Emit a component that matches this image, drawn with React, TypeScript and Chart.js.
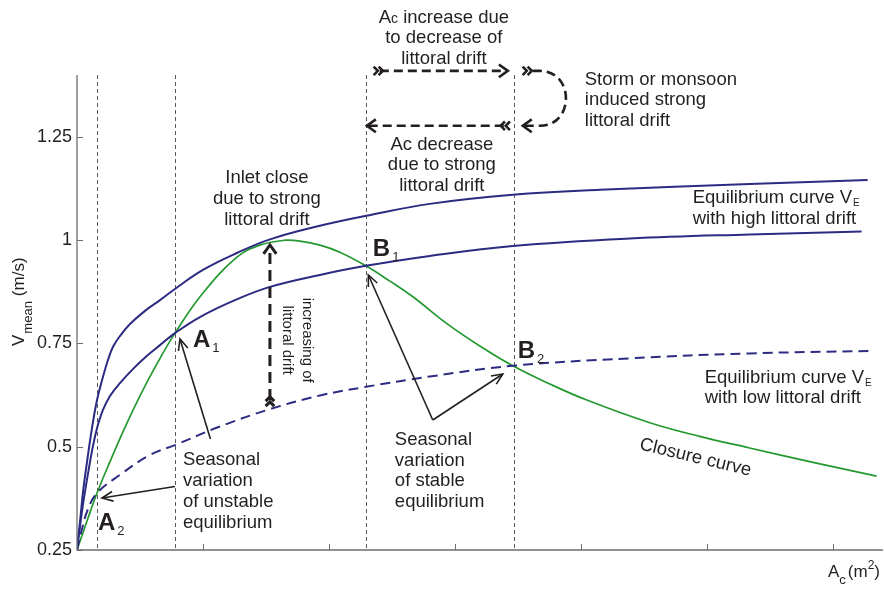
import React, { useEffect, useRef } from 'react';
import { Chart, registerables } from 'chart.js';

Chart.register(...registerables);

// ---------- data (A_c in axis units, V_mean in m/s) ----------
const highDriftX = [0, 0.0238, 0.0476, 0.0794, 0.119, 0.159, 0.206, 0.246, 0.286, 0.341, 0.421, 0.54, 0.659, 0.778, 1.0, 1.27, 1.532, 1.929, 2.294, 2.802, 3.46, 4.151, 5.341, 6.278];
const highDriftV = [0.25, 0.318, 0.39, 0.463, 0.545, 0.613, 0.669, 0.71, 0.742, 0.768, 0.797, 0.829, 0.855, 0.882, 0.928, 0.969, 1.002, 1.035, 1.059, 1.088, 1.11, 1.122, 1.136, 1.146];

const midDriftX = [0, 0.0238, 0.0556, 0.0952, 0.127, 0.159, 0.206, 0.262, 0.341, 0.444, 0.556, 0.659, 0.778, 0.976, 1.254, 1.532, 1.929, 2.294, 2.802, 3.46, 4.389, 5.341, 6.23];
const midDriftV = [0.25, 0.308, 0.376, 0.449, 0.502, 0.545, 0.589, 0.623, 0.654, 0.688, 0.72, 0.746, 0.775, 0.814, 0.855, 0.887, 0.916, 0.938, 0.962, 0.986, 1.004, 1.014, 1.021];

const lowDriftX = [0, 0.0397, 0.0873, 0.159, 0.341, 0.579, 0.778, 1.135, 1.532, 1.929, 2.294, 2.802, 3.46, 4.389, 5.341, 6.317];
const lowDriftV = [0.25, 0.301, 0.349, 0.388, 0.432, 0.48, 0.504, 0.549, 0.591, 0.624, 0.645, 0.67, 0.696, 0.714, 0.726, 0.732];

const closureX = [0, 0.0794, 0.159, 0.262, 0.381, 0.5, 0.619, 0.778, 1.0, 1.27, 1.452, 1.651, 1.77, 1.929, 2.087, 2.294, 2.484, 2.667, 2.937, 3.198, 3.46, 3.754, 4.048, 4.548, 4.944, 5.341, 5.817, 6.349];
const closureV = [0.25, 0.32, 0.388, 0.464, 0.547, 0.623, 0.692, 0.775, 0.872, 0.959, 0.988, 1.0, 0.998, 0.988, 0.971, 0.938, 0.901, 0.863, 0.798, 0.744, 0.696, 0.652, 0.613, 0.558, 0.525, 0.497, 0.464, 0.429];

// vertical dashed reference lines (A2, A1, B1, B2)
const stateMarks = [0.159, 0.778, 2.294, 3.468];

const xTicks = [1, 2, 3, 4, 5, 6];
const yTicks = [0.25, 0.5, 0.75, 1, 1.25];
const yTickLabels = ['0.25', '0.5', '0.75', '1', '1.25'];

const FONT = "'Liberation Sans', Arial, Helvetica, sans-serif";
const INK = '#231f20';
const NAVY = '#2c2b82';
const GREEN = '#23992f';

type Ctx = CanvasRenderingContext2D;

function chevron(ctx: Ctx, tx: number, ty: number, ang: number, len: number, spread: number) {
  ctx.beginPath();
  ctx.moveTo(tx - len * Math.cos(ang - spread), ty - len * Math.sin(ang - spread));
  ctx.lineTo(tx, ty);
  ctx.lineTo(tx - len * Math.cos(ang + spread), ty - len * Math.sin(ang + spread));
  ctx.stroke();
}

function feather(ctx: Ctx, x: number, y: number, ang: number) {
  for (const k of [6, 11]) {
    chevron(ctx, x + k * Math.cos(ang), y + k * Math.sin(ang), ang, 6, 0.8);
  }
}

function textLines(ctx: Ctx, lines: string[], x: number, y: number, lh: number, align: CanvasTextAlign) {
  ctx.textAlign = align;
  lines.forEach((l, i) => ctx.fillText(l, x, y + i * lh));
}

const annotPlugin = {
  id: 'annot',
  beforeDatasetsDraw(chart: any) {
    const { ctx, chartArea, scales } = chart;
    ctx.save();
    ctx.strokeStyle = '#58595b';
    ctx.lineWidth = 1;
    ctx.setLineDash([4, 3]);
    for (const u of stateMarks) {
      const px = Math.round(scales.x.getPixelForValue(u)) + 0.5;
      ctx.beginPath();
      ctx.moveTo(px, chartArea.top);
      ctx.lineTo(px, chartArea.bottom);
      ctx.stroke();
    }
    ctx.restore();
  },
  afterDraw(chart: any) {
    const { ctx, chartArea, scales } = chart;
    const xs = scales.x, ys = scales.y;
    const X = (u: number) => xs.getPixelForValue(u);
    const Y = (v: number) => ys.getPixelForValue(v);
    ctx.save();

    // axes
    ctx.setLineDash([]);
    ctx.strokeStyle = '#6d6e71';
    ctx.lineWidth = 1.3;
    ctx.beginPath();
    ctx.moveTo(chartArea.left, chartArea.top);
    ctx.lineTo(chartArea.left, chartArea.bottom);
    ctx.lineTo(chartArea.right, chartArea.bottom);
    ctx.stroke();
    ctx.lineWidth = 1;
    for (const v of yTicks) {
      const py = Math.round(Y(v)) + 0.5;
      ctx.beginPath();
      ctx.moveTo(chartArea.left, py);
      ctx.lineTo(chartArea.left + 6, py);
      ctx.stroke();
    }
    for (const u of xTicks) {
      const px = Math.round(X(u)) + 0.5;
      ctx.beginPath();
      ctx.moveTo(px, chartArea.bottom);
      ctx.lineTo(px, chartArea.bottom - 6);
      ctx.stroke();
    }

    ctx.fillStyle = INK;
    ctx.strokeStyle = INK;
    ctx.textBaseline = 'alphabetic';

    // axis titles
    ctx.save();
    ctx.translate(chartArea.left - 53, 346);
    ctx.rotate(-Math.PI / 2);
    ctx.textAlign = 'left';
    ctx.font = `17px ${FONT}`;
    ctx.fillText('V', 0, 0);
    let w = ctx.measureText('V').width + 1;
    ctx.font = `13px ${FONT}`;
    ctx.fillText('mean', w, 8);
    w += ctx.measureText('mean').width + 5;
    ctx.font = `17px ${FONT}`;
    ctx.fillText('(m/s)', w, 0);
    ctx.restore();

    {
      const base = chartArea.bottom + 27;
      ctx.textAlign = 'left';
      const parts: [string, string, number][] = [
        ['A', `17px ${FONT}`, 0],
        ['c', `13px ${FONT}`, 7],
        ['(m', `17px ${FONT}`, 0],
        ['2', `12px ${FONT}`, -8],
        [')', `17px ${FONT}`, 0],
      ];
      const gaps = [0, 0, 2, 0, 0];
      let total = 0;
      parts.forEach(([t, f], i) => { ctx.font = f; total += ctx.measureText(t).width + gaps[i]; });
      let cx = chartArea.right - 3 - total;
      parts.forEach(([t, f, dy], i) => {
        cx += gaps[i];
        ctx.font = f;
        ctx.fillText(t, cx, base + dy);
        cx += ctx.measureText(t).width;
      });
    }

    // state labels
    const stateLabel = (L: string, s: string, u: number, v: number) => {
      ctx.textAlign = 'left';
      ctx.font = `bold 24px ${FONT}`;
      const px = X(u), py = Y(v);
      ctx.fillText(L, px, py);
      const lw = ctx.measureText(L).width;
      ctx.font = `13px ${FONT}`;
      ctx.fillText(s, px + lw + 2, py + 5);
    };
    stateLabel('A', '1', 0.921, 0.7415);
    stateLabel('A', '2', 0.1667, 0.2984);
    stateLabel('B', '1', 2.349, 0.962);
    stateLabel('B', '2', 3.5, 0.715);

    // text blocks
    {
      const cx = X(2.913), by = Y(1.527);
      const l1a = 'A', l1b = 'c', l1c = ' increase due';
      ctx.font = `18.5px ${FONT}`;
      const wa = ctx.measureText(l1a).width;
      const wc = ctx.measureText(l1c).width;
      ctx.font = `14px ${FONT}`;
      const wb = ctx.measureText(l1b).width;
      const sx = cx - (wa + wb + wc) / 2;
      ctx.textAlign = 'left';
      ctx.font = `18.5px ${FONT}`;
      ctx.fillText(l1a, sx, by);
      ctx.font = `14px ${FONT}`;
      ctx.fillText(l1b, sx + wa, by);
      ctx.font = `18.5px ${FONT}`;
      ctx.fillText(l1c, sx + wa + wb, by);
      textLines(ctx, ['to decrease of', 'littoral drift'], cx, by + 20.5, 20.5, 'center');
    }
    ctx.font = `18.5px ${FONT}`;
    textLines(ctx, ['Storm or monsoon', 'induced strong', 'littoral drift'], X(4.032), Y(1.376), 20.5, 'left');
    textLines(ctx, ['Ac decrease', 'due to strong', 'littoral drift'], X(2.897), Y(1.219), 20.5, 'center');
    textLines(ctx, ['Inlet close', 'due to strong', 'littoral drift'], X(1.508), Y(1.139), 21, 'center');
    textLines(ctx, ['Seasonal', 'variation', 'of unstable', 'equilibrium'], X(0.841), Y(0.456), 21, 'left');
    textLines(ctx, ['Seasonal', 'variation', 'of stable', 'equilibrium'], X(2.524), Y(0.504), 20.5, 'left');

    const eqLabel = (u: number, v: number, second: string, lh: number) => {
      const px = X(u), py = Y(v);
      ctx.textAlign = 'left';
      ctx.font = `18.5px ${FONT}`;
      const t = 'Equilibrium curve V';
      ctx.fillText(t, px, py);
      const tw = ctx.measureText(t).width;
      ctx.font = `10px ${FONT}`;
      ctx.fillText('E', px + tw + 1, py + 3);
      ctx.font = `18.5px ${FONT}`;
      ctx.fillText(second, px, py + lh);
    };
    eqLabel(4.889, 1.09, 'with high littoral drift', 21);
    eqLabel(4.984, 0.654, 'with low littoral drift', 20);

    // closure curve label
    ctx.save();
    ctx.translate(X(4.46), Y(0.494));
    ctx.rotate((13.5 * Math.PI) / 180);
    ctx.textAlign = 'left';
    ctx.font = `18.5px ${FONT}`;
    ctx.fillText('Closure curve', 0, 0);
    ctx.restore();

    // rotated "increasing of littoral drift"
    ctx.save();
    ctx.translate(X(1.794), Y(0.758));
    ctx.rotate(Math.PI / 2);
    ctx.font = `15px ${FONT}`;
    ctx.textAlign = 'center';
    ctx.fillText('increasing of', 0, 0);
    ctx.fillText('littoral drift', 0, X(1.794) - X(1.635));
    ctx.restore();

    // solid thin arrows
    const solidArrow = (u1: number, v1: number, u2: number, v2: number) => {
      const x1 = X(u1), y1 = Y(v1), x2 = X(u2), y2 = Y(v2);
      ctx.setLineDash([]);
      ctx.lineWidth = 1.6;
      ctx.beginPath();
      ctx.moveTo(x1, y1);
      ctx.lineTo(x2, y2);
      ctx.stroke();
      chevron(ctx, x2, y2, Math.atan2(y2 - y1, x2 - x1), 12, 0.42);
    };
    solidArrow(1.0595, 0.5188, 0.8175, 0.7609);
    solidArrow(0.778, 0.4038, 0.1984, 0.3759);
    solidArrow(2.825, 0.5648, 2.3135, 0.9159);
    solidArrow(2.825, 0.5648, 3.381, 0.6761);

    // dashed arrows
    const dashedArrow = (x1: number, y1: number, x2: number, y2: number, lw: number, dash: number[]) => {
      const ang = Math.atan2(y2 - y1, x2 - x1);
      ctx.lineWidth = lw;
      ctx.setLineDash(dash);
      ctx.beginPath();
      ctx.moveTo(x1 + 8 * Math.cos(ang), y1 + 8 * Math.sin(ang));
      ctx.lineTo(x2 - 2 * Math.cos(ang), y2 - 2 * Math.sin(ang));
      ctx.stroke();
      ctx.setLineDash([]);
      feather(ctx, x1, y1, ang);
      chevron(ctx, x2, y2, ang, 11, 0.62);
    };
    ctx.lineCap = 'butt';
    dashedArrow(X(2.341), Y(1.41), X(3.421), Y(1.41), 2.6, [9, 5]);
    dashedArrow(X(3.452), Y(1.277), X(2.302), Y(1.277), 2.6, [9, 5]);
    dashedArrow(X(1.532), Y(0.594), X(1.532), Y(0.9885), 3, [11, 6]);

    // curved storm arrow
    {
      const sx = X(3.524), topY = Y(1.41), botY = Y(1.277);
      const bend = X(3.675), ctrl = X(3.952), tip = X(3.54);
      ctx.lineWidth = 2.6;
      ctx.setLineDash([9, 5]);
      ctx.beginPath();
      ctx.moveTo(sx + 12, topY);
      ctx.lineTo(bend, topY);
      ctx.bezierCurveTo(ctrl, topY, ctrl, botY, bend, botY);
      ctx.lineTo(tip + 2, botY);
      ctx.stroke();
      ctx.setLineDash([]);
      feather(ctx, sx, topY, 0);
      chevron(ctx, tip, botY, Math.PI, 11, 0.62);
    }

    ctx.restore();
  },
};

export default function App() {
  const canvasRef = useRef<HTMLCanvasElement | null>(null);

  useEffect(() => {
    const canvas = canvasRef.current;
    if (!canvas) return;
    const pts = (xs: number[], vs: number[]) => xs.map((x, i) => ({ x, y: vs[i] }));
    const common = { pointRadius: 0, fill: false, tension: 0.4 };
    const chart = new Chart(canvas, {
      type: 'line',
      data: {
        datasets: [
          { label: 'Equilibrium curve (upper)', data: pts(highDriftX, highDriftV), borderColor: NAVY, borderWidth: 2, ...common },
          { label: 'Equilibrium curve V_E with high littoral drift', data: pts(midDriftX, midDriftV), borderColor: NAVY, borderWidth: 2, ...common },
          { label: 'Equilibrium curve V_E with low littoral drift', data: pts(lowDriftX, lowDriftV), borderColor: NAVY, borderWidth: 2, borderDash: [10, 6], ...common },
          { label: 'Closure curve', data: pts(closureX, closureV), borderColor: GREEN, borderWidth: 1.7, ...common },
        ],
      },
      options: {
        responsive: false,
        animation: false,
        devicePixelRatio: 1,
        layout: { padding: { top: 75, right: 1, left: 0, bottom: 0 } },
        plugins: { legend: { display: false }, tooltip: { enabled: false } },
        scales: {
          x: {
            type: 'linear',
            min: 0,
            max: 6.4,
            grid: { display: false, drawTicks: false },
            border: { display: false },
            ticks: { display: false },
            afterBuildTicks: (s: any) => { s.ticks = xTicks.map((value) => ({ value })); },
            afterFit: (s: any) => { s.height = 41; },
          },
          y: {
            type: 'linear',
            min: 0.25,
            max: 1.4,
            grid: { display: false, drawTicks: false },
            border: { display: false },
            ticks: {
              padding: 5,
              color: INK,
              font: { family: FONT, size: 18 },
              callback: (_v: any, i: number) => yTickLabels[i],
            },
            afterBuildTicks: (s: any) => { s.ticks = yTicks.map((value) => ({ value })); },
            afterFit: (s: any) => { s.width = 77; },
          },
        },
      } as any,
      plugins: [annotPlugin],
    });
    return () => chart.destroy();
  }, []);

  return (
    <div style={{ position: 'absolute', left: 0, top: 0, width: 884, height: 591, background: '#fff' }}>
      <canvas ref={canvasRef} width={884} height={591} style={{ display: 'block' }} />
    </div>
  );
}
